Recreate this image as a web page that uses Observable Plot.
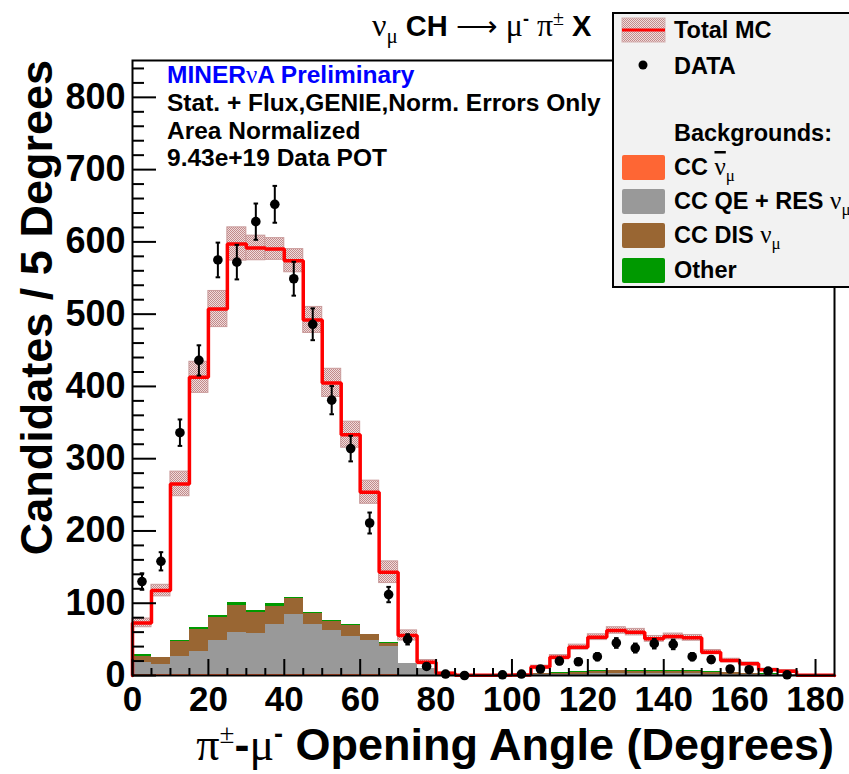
<!DOCTYPE html>
<html>
<head>
<meta charset="utf-8">
<script src="https://cdn.jsdelivr.net/npm/d3@7"></script>
<script src="https://cdn.jsdelivr.net/npm/@observablehq/plot@0.6"></script>
<style>
  html, body { margin: 0; padding: 0; background: #fff; }
  #chart svg { display: block; }
</style>
</head>
<body>
<div id="chart"></div>
<script>
// Opening angle between the pion and the muon, 5-degree bins (lower edges).
const binLow = [0, 5, 10, 15, 20, 25, 30, 35, 40, 45, 50, 55, 60, 65, 70, 75, 80, 85, 90,
  95, 100, 105, 110, 115, 120, 125, 130, 135, 140, 145, 150, 155, 160, 165, 170, 175, 180];
const binWidth = 5;

// Total MC prediction (area normalised) and its systematic band half-width.
const totalMC = [72.8, 117.5, 265.1, 412.6, 507.1, 597.1, 591.6, 590.2, 574.0, 492.0, 404.9, 333.2,
  253.6, 142.9, 55.4, 18.4, 3.2, 0.5, 0.3, 0.3, 0.8, 11.6, 25.3, 39.2, 53.0, 62.3, 60.0, 50.7,
  54.0, 52.1, 32.3, 20.7, 16.1, 7.9, 6.0, 0.5, 0.3];
const totalMCErr = [6, 8, 17, 21.5, 25, 23, 17, 15, 16, 18, 19.5, 18, 16, 15, 7, 3, 1, 0, 0, 0,
  0.5, 2, 3, 3.5, 4, 4.5, 4.5, 4, 4, 4, 3, 2.5, 2, 1.5, 1.5, 0, 0];

// Background components, stacked from the bottom.
const bgNuBar = [1, 1, 1, 1.2, 1.2, 1.5, 1.5, 2, 2, 2, 1.5, 1.5, 1.2, 1, 0.5, 0.3, 0.1, 0, 0, 0,
  0.1, 0.3, 0.4, 0.5, 0.5, 0.6, 0.6, 0.5, 0.5, 0.5, 0.4, 0.3, 0.3, 0.2, 0.2, 0, 0];
const bgQERes = [17, 13.8, 25.7, 32, 47.2, 57.5, 56.2, 68.5, 81.9, 68.5, 60.8, 52.9, 47.2, 39.5,
  15.6, 8.7, 1.5, 0.3, 0.2, 0.2, 0.4, 0.8, 1.2, 1.5, 1.8, 2.2, 2.2, 2, 2, 2, 1.5, 1.2, 1, 0.6, 0.5, 0.1, 0];
const bgDIS = [8.7, 9.6, 20.3, 30.4, 32.3, 37.8, 29.9, 24.9, 22.2, 14.8, 12.4, 14.7, 8.3, 4.2, 0.9,
  0.5, 0.2, 0.1, 0.1, 0.1, 0.3, 1, 1.8, 2.8, 3.8, 4.3, 3.4, 3.3, 3.4, 3.6, 2.8, 2.3, 1.9, 1.2, 1, 0.1, 0];
const bgOther = [1.9, 1, 1.4, 2.3, 2.3, 4.2, 2.3, 3.7, 1.8, 1.9, 1.4, 1.4, 0.6, 0.3, 0.2, 0.1, 0, 0,
  0, 0, 0, 0.2, 0.3, 0.3, 0.3, 0.4, 1.2, 0.5, 0.6, 1.2, 0.3, 0.3, 0.2, 0.1, 0.1, 0, 0];

// Data: bin centres with selected events, counts and statistical errors.
const dataAngle = [2.5, 7.5, 12.5, 17.5, 22.5, 27.5, 32.5, 37.5, 42.5, 47.5, 52.5, 57.5, 62.5,
  67.5, 72.5, 77.5, 82.5, 87.5, 97.5, 102.5, 107.5, 112.5, 117.5, 122.5, 127.5, 132.5, 137.5,
  142.5, 147.5, 152.5, 157.5, 162.5, 167.5, 172.5];
const dataCounts = [130, 158, 336, 436, 575, 572, 628, 652, 549, 486, 381, 314, 211, 112, 50,
  12.5, 2, 0, 1, 2, 9, 20, 19, 26, 45, 38, 44, 43, 26, 22, 9, 8, 6, 1];
const dataErr = [11.4, 12.6, 18.3, 20.9, 24, 23.9, 25.1, 25.5, 23.4, 22, 19.5, 17.7, 14.5, 10.6,
  7.1, 3.5, 1.4, 0, 1, 1.4, 3, 4.5, 4.4, 5.1, 6.7, 6.2, 6.6, 6.6, 5.1, 4.7, 3, 2.8, 2.4, 1];

// Axis ticks.
const yMajor = [0, 100, 200, 300, 400, 500, 600, 700, 800];
const yMinor = [20, 40, 60, 80, 120, 140, 160, 180, 220, 240, 260, 280, 320, 340, 360, 380, 420,
  440, 460, 480, 520, 540, 560, 580, 620, 640, 660, 680, 720, 740, 760, 780, 820, 840];
const xMajor = [0, 20, 40, 60, 80, 100, 120, 140, 160, 180];
const xMinor = [5, 10, 15, 25, 30, 35, 45, 50, 55, 65, 70, 75, 85, 90, 95, 105, 110, 115, 125,
  130, 135, 145, 150, 155, 165, 170, 175];

const components = ["nubar", "qeres", "dis", "other"];
const componentColors = ["#fe6634", "#999999", "#996633", "#009900"];
const componentLabels = ["CC ν̄μ", "CC QE + RES νμ", "CC DIS νμ", "Other"];

// Tables for the marks.
const bgRows = [];
binLow.forEach((lo, i) => {
  [bgNuBar, bgQERes, bgDIS, bgOther].forEach((arr, k) => {
    bgRows.push({lo, hi: lo + binWidth, comp: components[k], n: arr[i]});
  });
});
const mcRows = binLow.map((lo, i) => ({lo, hi: lo + binWidth, n: totalMC[i], err: totalMCErr[i]}));
const lineRows = [{x: 0, n: 0}]
  .concat(mcRows.map(d => ({x: d.lo, n: d.n})))
  .concat([{x: 185, n: totalMC[totalMC.length - 1]}, {x: 185, n: 0}]);
const dataRows = dataAngle.map((x, i) => ({x, n: dataCounts[i], e: dataErr[i]}));

const sans = "'Liberation Sans', Arial, Helvetica, sans-serif";
const serif = "'Liberation Serif', 'Times New Roman', serif";

const chart = Plot.plot({
  width: 849,
  height: 774,
  marginLeft: 132,
  marginRight: 15,
  marginTop: 60,
  marginBottom: 99,
  style: {fontFamily: sans, background: "white", overflow: "visible"},
  x: {domain: [0, 185]},
  y: {domain: [0, 851]},
  color: {domain: components, range: componentColors},
  marks: [
    Plot.rectY(bgRows, {x1: "lo", x2: "hi", y: "n", fill: "comp", shapeRendering: "crispEdges"}),
    Plot.rect(mcRows.filter(d => d.err > 0), {
      x1: "lo", x2: "hi", y1: d => d.n - d.err, y2: d => d.n + d.err,
      fill: "url(#mcBand)", stroke: "#c99a9a", strokeWidth: 1
    }),
    Plot.line(lineRows, {x: "x", y: "n", curve: "step-after", stroke: "#ff0000", strokeWidth: 3.5, strokeLinejoin: "miter"}),
    Plot.ruleX(dataRows.filter(d => d.e > 0), {x: "x", y1: d => d.n - d.e, y2: d => d.n + d.e, stroke: "black", strokeWidth: 2}),
    Plot.link(dataRows.filter(d => d.e > 0), {x1: d => d.x - 0.6, x2: d => d.x + 0.6, y1: d => d.n + d.e, y2: d => d.n + d.e, stroke: "black", strokeWidth: 2}),
    Plot.link(dataRows.filter(d => d.e > 0), {x1: d => d.x - 0.6, x2: d => d.x + 0.6, y1: d => d.n - d.e, y2: d => d.n - d.e, stroke: "black", strokeWidth: 2}),
    Plot.dot(dataRows, {x: "x", y: "n", r: 4.8, fill: "black", stroke: "none"}),
    Plot.axisY({ticks: yMinor, tickSize: -12, fill: "none", label: null, strokeWidth: 2}),
    Plot.axisY({ticks: yMajor, tickSize: -24, fill: "none", label: null, strokeWidth: 2}),
    Plot.axisY({ticks: yMajor, tickSize: 0, tickPadding: 7, label: null, fontSize: 36, fontWeight: "bold", fill: "black"}),
    Plot.axisX({ticks: xMinor, tickSize: -7, fill: "none", label: null, strokeWidth: 2}),
    Plot.axisX({ticks: xMajor, tickSize: -16, fill: "none", label: null, strokeWidth: 2}),
    Plot.axisX({ticks: xMajor, tickSize: 0, tickPadding: 11, label: null, fontSize: 35, fontWeight: "bold", fill: "black"}),
    Plot.frame({stroke: "black", strokeWidth: 2})
  ]
});
document.getElementById("chart").appendChild(chart);

const svg = d3.select(chart);

// Stippled fill for the MC uncertainty band.
const defs = svg.insert("defs", ":first-child");
const pat = defs.append("pattern").attr("id", "mcBand")
  .attr("width", 2).attr("height", 2).attr("patternUnits", "userSpaceOnUse");
pat.append("rect").attr("width", 2).attr("height", 2).attr("fill", "#efdcdc");
pat.append("rect").attr("width", 1).attr("height", 1).attr("fill", "#c28a8a");
pat.append("rect").attr("x", 1).attr("y", 1).attr("width", 1).attr("height", 1).attr("fill", "#c28a8a");

// Rich text helper: parts are [text, {font, size, weight, dy, deco}].
function richText(g, x, y, parts, attrs = {}) {
  const t = g.append("text").attr("x", x).attr("y", y).attr("fill", "black")
    .attr("text-anchor", "start");
  Object.entries(attrs).forEach(([k, v]) => t.attr(k, v));
  parts.forEach(([s, o = {}]) => {
    const ts = t.append("tspan").text(s)
      .attr("font-family", o.font || sans)
      .attr("font-size", o.size || 22)
      .attr("font-weight", o.weight || "bold");
    if (o.dy) ts.attr("dy", o.dy);
    if (o.deco) ts.style("text-decoration", o.deco);
    if (o.fill) ts.attr("fill", o.fill);
  });
  return t;
}

const ann = svg.append("g");

// Title.
richText(ann, 372, 36, [
  ["ν", {font: serif, size: 32, weight: "normal"}],
  ["μ", {font: serif, size: 21, weight: "normal", dy: 7}],
  [" CH ", {size: 29, dy: -7}],
  ["⟶", {font: serif, size: 29, weight: "normal"}],
  [" μ", {font: serif, size: 32, weight: "normal"}],
  ["-", {size: 18, dy: -11}],
  [" π", {font: serif, size: 32, weight: "normal", dy: 11}],
  ["±", {font: serif, size: 20, weight: "normal", dy: -11}],
  [" X", {size: 29, dy: 11}]
]);

// Info lines in the upper left of the frame.
richText(ann, 167, 83, [
  ["MINER", {size: 24.5, fill: "#0000ff"}],
  ["ν", {font: serif, size: 25, weight: "normal", fill: "#0000ff"}],
  ["A Preliminary", {size: 24.5, fill: "#0000ff"}]
]);
richText(ann, 167, 111, [["Stat. + Flux,GENIE,Norm. Errors Only", {size: 24.5}]]);
richText(ann, 167, 139, [["Area Normalized", {size: 24.5}]]);
richText(ann, 167, 166, [["9.43e+19 Data POT", {size: 24.5}]]);

// Axis titles.
richText(ann, 0, 0, [["Candidates / 5 Degrees", {size: 45}]],
  {"text-anchor": "end", transform: "translate(52,60) rotate(-90)"});
richText(ann, 834, 760, [
  ["π", {font: serif, size: 46, weight: "normal"}],
  ["±", {font: serif, size: 27, weight: "normal", dy: -17}],
  ["-", {size: 45, dy: 17}],
  ["μ", {font: serif, size: 46, weight: "normal"}],
  ["-", {size: 27, dy: -17}],
  [" Opening Angle (Degrees)", {size: 45, dy: 17}]
], {"text-anchor": "end"});

// Legend.
const lg = svg.append("g");
lg.append("rect").attr("x", 613).attr("y", 13).attr("width", 260).attr("height", 274)
  .attr("fill", "#f2f2f2").attr("stroke", "black").attr("stroke-width", 2);
lg.append("rect").attr("x", 622).attr("y", 18).attr("width", 43).attr("height", 24)
  .attr("fill", "url(#mcBand)").attr("stroke", "#d4b0b0").attr("stroke-width", 1);
lg.append("line").attr("x1", 622).attr("x2", 665).attr("y1", 30).attr("y2", 30)
  .attr("stroke", "#ff0000").attr("stroke-width", 3);
richText(lg, 674, 38, [["Total MC", {size: 23.5}]]);
lg.append("circle").attr("cx", 643).attr("cy", 65).attr("r", 4.5).attr("fill", "black");
richText(lg, 674, 74, [["DATA", {size: 23.5}]]);
richText(lg, 674, 141, [["Backgrounds:", {size: 23.5}]]);
const swatchY = [155, 189, 223, 258];
const legendParts = [
  [["CC ", {size: 23.5}], ["ν", {font: serif, size: 25, weight: "normal", deco: "overline"}], ["μ", {font: serif, size: 17, weight: "normal", dy: 6}]],
  [["CC QE + RES ", {size: 23.5}], ["ν", {font: serif, size: 25, weight: "normal"}], ["μ", {font: serif, size: 17, weight: "normal", dy: 6}]],
  [["CC DIS ", {size: 23.5}], ["ν", {font: serif, size: 25, weight: "normal"}], ["μ", {font: serif, size: 17, weight: "normal", dy: 6}]],
  [["Other", {size: 23.5}]]
];
components.forEach((c, i) => {
  lg.append("rect").attr("x", 622).attr("y", swatchY[i]).attr("width", 43).attr("height", 25)
    .attr("rx", 2).attr("fill", componentColors[i]);
  richText(lg, 674, swatchY[i] + 20, legendParts[i]).attr("aria-label", componentLabels[i]);
});
</script>
</body>
</html>
